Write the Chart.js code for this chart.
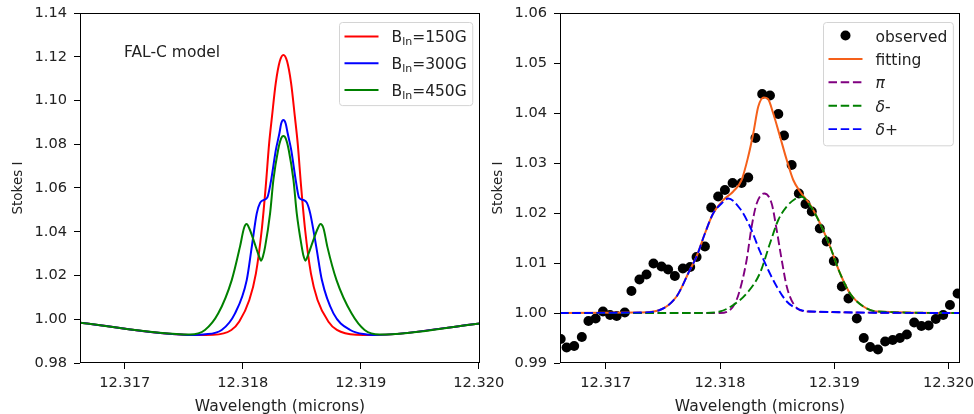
<!DOCTYPE html>
<html>
<head>
<meta charset="utf-8">
<script src="https://cdn.jsdelivr.net/npm/chart.js@4.4.1/dist/chart.umd.min.js"></script>
<style>
  html, body { margin: 0; padding: 0; background: #fff; overflow: hidden; }
  #wrap { position: relative; width: 974px; height: 414px; overflow: hidden; }
  .panel { position: absolute; top: 0; }
  #left { left: 0; }
  #right { left: 454px; }
</style>
</head>
<body>
<div id="wrap">
  <div class="panel" id="left"><canvas id="chartModel" width="520" height="430"></canvas></div>
  <div class="panel" id="right"><canvas id="chartFit" width="520" height="430"></canvas></div>
</div>
<script>
// axis ticks
const xTicksModel = [12.317, 12.318, 12.319, 12.320];
const yTicksModel = [0.98, 1.00, 1.02, 1.04, 1.06, 1.08, 1.10, 1.12, 1.14];
const xTicksFit = [12.317, 12.318, 12.319, 12.320];
const yTicksFit = [0.99, 1.00, 1.01, 1.02, 1.03, 1.04, 1.05, 1.06];

const fieldLabels = ['=150G', '=300G', '=450G'];
const fitLabels = ['observed', 'fitting', 'π', 'δ-', 'δ+'];

// FAL-C model profiles: [wavelength (microns), Stokes I]
const b150 = [
  [12.316618, 0.9984], [12.317594, 0.9928], [12.317750, 0.9929], [12.317903, 0.9951],
  [12.317970, 0.9990], [12.318055, 1.0088], [12.318111, 1.0210], [12.318160, 1.0408],
  [12.318194, 1.0606], [12.318223, 1.0804], [12.318247, 1.0926], [12.318279, 1.1079],
  [12.318313, 1.1179], [12.318344, 1.1208], [12.318375, 1.1179], [12.318409, 1.1079],
  [12.318441, 1.0926], [12.318465, 1.0804], [12.318494, 1.0606], [12.318528, 1.0408],
  [12.318577, 1.0210], [12.318633, 1.0088], [12.318724, 0.9990], [12.318797, 0.9951],
  [12.318960, 0.9929], [12.319105, 0.9928], [12.320009, 0.9981]
];
const b300 = [
  [12.316618, 0.9984], [12.317594, 0.9928], [12.317665, 0.9930], [12.317821, 0.9951],
  [12.317934, 1.0027], [12.318033, 1.0179], [12.318076, 1.0332], [12.318118, 1.0484],
  [12.318146, 1.0532], [12.318176, 1.0545], [12.318208, 1.0557], [12.318238, 1.0630],
  [12.318280, 1.0774], [12.318310, 1.0850], [12.318325, 1.0895], [12.318344, 1.0911],
  [12.318363, 1.0895], [12.318380, 1.0850], [12.318410, 1.0774], [12.318450, 1.0630],
  [12.318476, 1.0557], [12.318514, 1.0545], [12.318543, 1.0532], [12.318571, 1.0484],
  [12.318622, 1.0332], [12.318670, 1.0179], [12.318768, 1.0027], [12.318910, 0.9951],
  [12.319049, 0.9930], [12.319105, 0.9928], [12.320009, 0.9981]
];
const b450 = [
  [12.316618, 0.9984], [12.317552, 0.9930], [12.317679, 0.9951], [12.317792, 1.0027],
  [12.317906, 1.0179], [12.317976, 1.0332], [12.318009, 1.0415], [12.318032, 1.0435],
  [12.318055, 1.0415], [12.318095, 1.0355], [12.318136, 1.0290], [12.318155, 1.0268],
  [12.318172, 1.0290], [12.318189, 1.0332], [12.318231, 1.0484], [12.318259, 1.0637],
  [12.318299, 1.0774], [12.318323, 1.0825], [12.318344, 1.0838], [12.318365, 1.0825],
  [12.318389, 1.0774], [12.318429, 1.0637], [12.318457, 1.0484], [12.318499, 1.0332],
  [12.318514, 1.0290], [12.318531, 1.0268], [12.318550, 1.0290], [12.318593, 1.0355],
  [12.318635, 1.0415], [12.318658, 1.0435], [12.318684, 1.0415], [12.318716, 1.0332],
  [12.318794, 1.0179], [12.318921, 1.0027], [12.319032, 0.9951], [12.319159, 0.9930],
  [12.320009, 0.9981]
];

// observed profile and its three-component fit
const observed = [
  [12.316606, 0.9948], [12.316658, 0.9931], [12.316724, 0.9934], [12.316791, 0.9952],
  [12.316849, 0.9984], [12.316912, 0.9989], [12.316976, 1.0003], [12.317038, 0.9996],
  [12.317096, 0.9994], [12.317167, 1.0001], [12.317225, 1.0044], [12.317295, 1.0067],
  [12.317357, 1.0077], [12.317418, 1.0099], [12.317488, 1.0093], [12.317546, 1.0087],
  [12.317605, 1.0074], [12.317675, 1.0089], [12.317739, 1.0092], [12.317795, 1.0112],
  [12.317868, 1.0133], [12.317923, 1.0211], [12.317984, 1.0233], [12.318043, 1.0246],
  [12.318110, 1.0260], [12.318189, 1.0260], [12.318247, 1.0271], [12.318310, 1.0350],
  [12.318369, 1.0438], [12.318437, 1.0435], [12.318510, 1.0398], [12.318560, 1.0355],
  [12.318627, 1.0296], [12.318690, 1.0239], [12.318748, 1.0218], [12.318803, 1.0203],
  [12.318873, 1.0169], [12.318934, 1.0143], [12.318996, 1.0104], [12.319066, 1.0053],
  [12.319124, 1.0029], [12.319197, 0.9989], [12.319258, 0.9950], [12.319314, 0.9932],
  [12.319382, 0.9927], [12.319445, 0.9943], [12.319511, 0.9946], [12.319574, 0.9950],
  [12.319635, 0.9957], [12.319699, 0.9981], [12.319762, 0.9974], [12.319825, 0.9975],
  [12.319888, 0.9988], [12.319953, 0.9996], [12.320012, 1.0016], [12.320079, 1.0039]
];
const fitting = [
  [12.316600, 1.0000], [12.317298, 1.0001], [12.317473, 1.0006], [12.317620, 1.0033],
  [12.317736, 1.0086], [12.317795, 1.0113], [12.317868, 1.0159], [12.317940, 1.0199],
  [12.318028, 1.0226], [12.318116, 1.0243], [12.318189, 1.0266], [12.318247, 1.0313],
  [12.318291, 1.0359], [12.318335, 1.0413], [12.318384, 1.0431], [12.318420, 1.0428],
  [12.318466, 1.0399], [12.318525, 1.0353], [12.318584, 1.0306], [12.318641, 1.0266],
  [12.318700, 1.0243], [12.318788, 1.0217], [12.318876, 1.0179], [12.318963, 1.0133],
  [12.319051, 1.0079], [12.319138, 1.0039], [12.319255, 1.0013], [12.319372, 1.0003],
  [12.320102, 1.0000]
];
const piComp = [
  [12.316600, 1.0000], [12.317999, 1.0000], [12.318131, 1.0019], [12.318189, 1.0059],
  [12.318233, 1.0106], [12.318277, 1.0173], [12.318321, 1.0219], [12.318387, 1.0239],
  [12.318452, 1.0219], [12.318496, 1.0166], [12.318540, 1.0106], [12.318584, 1.0053],
  [12.318641, 1.0019], [12.318759, 1.0003], [12.320102, 1.0000]
];
const deltaMinus = [
  [12.316600, 1.0000], [12.317824, 1.0000], [12.317999, 1.0003], [12.318116, 1.0016],
  [12.318233, 1.0039], [12.318350, 1.0080], [12.318437, 1.0139], [12.318510, 1.0186],
  [12.318584, 1.0213], [12.318671, 1.0230], [12.318709, 1.0233], [12.318788, 1.0215],
  [12.318876, 1.0179], [12.318963, 1.0133], [12.319051, 1.0079], [12.319138, 1.0039],
  [12.319255, 1.0013], [12.319372, 1.0003], [12.320102, 1.0000]
];
const deltaPlus = [
  [12.316600, 1.0000], [12.317298, 1.0001], [12.317473, 1.0006], [12.317620, 1.0033],
  [12.317736, 1.0086], [12.317795, 1.0113], [12.317868, 1.0159], [12.317940, 1.0199],
  [12.318014, 1.0219], [12.318072, 1.0229], [12.318174, 1.0209], [12.318262, 1.0173],
  [12.318350, 1.0123], [12.318422, 1.0086], [12.318496, 1.0053], [12.318584, 1.0023],
  [12.318671, 1.0009], [12.318788, 1.0003], [12.320102, 1.0000]
];

const FONT = "'DejaVu Sans', sans-serif";
const TEXT = '#222';
const DASH = [8.5, 3.7];
Chart.defaults.font.family = FONT;

const pts = arr => arr.map(([x, y]) => ({ x, y }));

function curve(data, color, order, dashed) {
  return {
    data: pts(data),
    borderColor: color,
    borderWidth: dashed ? 1.9 : 2,
    borderDash: dashed ? DASH : [],
    pointRadius: 0,
    fill: false,
    cubicInterpolationMode: 'monotone',
    clip: 0,
    order
  };
}

function buildScales(xr, yr, xt, yt, yDigits, yWidth, yTitlePad) {
  const tickFont = { size: 14.6 };
  return {
    x: {
      type: 'linear', min: xr[0], max: xr[1],
      afterBuildTicks: s => { s.ticks = xt.map(value => ({ value })); },
      afterFit: s => { s.height = 67; s.paddingLeft = 0; s.paddingRight = 0; },
      ticks: { callback: v => v.toFixed(3), font: tickFont, color: TEXT, padding: 5, maxRotation: 0, autoSkip: false },
      grid: { drawOnChartArea: false, tickLength: 6, color: '#000', lineWidth: 1 },
      border: { display: false },
      title: { display: true, text: 'Wavelength (microns)', font: { size: 15.5 }, color: TEXT, padding: { top: 0, bottom: 13.5 } }
    },
    y: {
      type: 'linear', min: yr[0], max: yr[1],
      afterBuildTicks: s => { s.ticks = yt.map(value => ({ value })); },
      afterFit: s => { s.width = yWidth; s.paddingTop = 0; s.paddingBottom = 0; },
      ticks: { callback: v => v.toFixed(yDigits), font: tickFont, color: TEXT, padding: 7, autoSkip: false },
      grid: { drawOnChartArea: false, tickLength: 6, color: '#000', lineWidth: 1 },
      border: { display: false },
      title: { display: true, text: 'Stokes I', font: { size: 13.5 }, color: TEXT, padding: { top: yTitlePad, bottom: 0 } }
    }
  };
}

// axes box drawn on all four sides
const frame = {
  id: 'frame',
  afterDatasetsDraw(chart) {
    const { ctx, chartArea: a } = chart;
    ctx.save();
    ctx.strokeStyle = '#000';
    ctx.lineWidth = 1;
    ctx.strokeRect(Math.round(a.left) + 0.5, Math.round(a.top) + 0.5,
      Math.round(a.right - a.left) - 1, Math.round(a.bottom - a.top) - 1);
    ctx.restore();
  }
};

function roundedBox(ctx, x, y, w, h, r) {
  ctx.beginPath();
  ctx.moveTo(x + r, y);
  ctx.lineTo(x + w - r, y);
  ctx.arcTo(x + w, y, x + w, y + r, r);
  ctx.lineTo(x + w, y + h - r);
  ctx.arcTo(x + w, y + h, x + w - r, y + h, r);
  ctx.lineTo(x + r, y + h);
  ctx.arcTo(x, y + h, x, y + h - r, r);
  ctx.lineTo(x, y + r);
  ctx.arcTo(x, y, x + r, y, r);
  ctx.closePath();
}

// legend in the upper right corner; rows hold a handle and text parts
function drawLegend(chart, rows, cfg) {
  const { ctx, chartArea: a } = chart;
  const fs = 15.5;
  const fontOf = p => `${p.italic ? 'italic ' : ''}${p.sub ? 11 : fs}px ${FONT}`;
  ctx.save();
  let textW = 0;
  rows.forEach(r => {
    r.w = 0;
    r.parts.forEach(p => { ctx.font = fontOf(p); p.w = ctx.measureText(p.t).width; r.w += p.w; });
    textW = Math.max(textW, r.w);
  });
  const width = 5 + 47 + textW + 6;
  const height = cfg.first + cfg.gap * (rows.length - 1) + cfg.last;
  const x0 = Math.round(a.right - 7.5 - width) + 0.5;
  const y0 = Math.round(a.top + 8.5) + 0.5;
  roundedBox(ctx, x0, y0, width, height, 3);
  ctx.fillStyle = 'rgba(255,255,255,0.8)';
  ctx.fill();
  ctx.strokeStyle = '#d4d4d4';
  ctx.lineWidth = 1;
  ctx.stroke();
  rows.forEach((r, i) => {
    const y = y0 + cfg.first + i * cfg.gap;
    const hx = x0 + 5;
    if (r.dot) {
      ctx.beginPath();
      ctx.arc(hx + 17, y, 5, 0, Math.PI * 2);
      ctx.fillStyle = r.color;
      ctx.fill();
    } else {
      ctx.beginPath();
      ctx.setLineDash(r.dashed ? DASH : []);
      ctx.strokeStyle = r.color;
      ctx.lineWidth = r.dashed ? 1.9 : 2;
      ctx.moveTo(hx, y);
      ctx.lineTo(hx + 34, y);
      ctx.stroke();
      ctx.setLineDash([]);
    }
    let tx = hx + 47;
    ctx.fillStyle = TEXT;
    ctx.textBaseline = 'alphabetic';
    r.parts.forEach(p => {
      ctx.font = fontOf(p);
      ctx.fillText(p.t, tx, y + cfg.base + (p.sub ? 3 : 0));
      tx += p.w;
    });
  });
  ctx.restore();
}

const modelColors = ['#ff0000', '#0000ff', '#008000'];

const modelNotes = {
  id: 'modelNotes',
  afterDatasetsDraw(chart) {
    const { ctx } = chart;
    ctx.save();
    ctx.font = `15.5px ${FONT}`;
    ctx.fillStyle = TEXT;
    ctx.fillText('FAL-C model', 124, 56.5);
    ctx.restore();
    drawLegend(chart, fieldLabels.map((lab, i) => ({
      color: modelColors[i],
      parts: [{ t: 'B' }, { t: 'ln', sub: true }, { t: lab }]
    })), { first: 14, gap: 26.7, last: 15.7, base: 5.7 });
  }
};

new Chart(document.getElementById('chartModel'), {
  type: 'line',
  data: {
    datasets: [
      curve(b150, modelColors[0], 3, false),
      curve(b300, modelColors[1], 2, false),
      curve(b450, modelColors[2], 1, false)
    ]
  },
  options: {
    responsive: false,
    animation: false,
    events: [],
    layout: { padding: { top: 13, left: 0, right: 40, bottom: 0 } },
    plugins: { legend: { display: false }, tooltip: { enabled: false } },
    scales: buildScales([12.31662, 12.32001], [0.98, 1.14], xTicksModel, yTicksModel, 2, 80, 10.5)
  },
  plugins: [frame, modelNotes]
});

const fitColors = ['#000000', '#f5601a', '#800080', '#008000', '#0000ff'];

const fitLegend = {
  id: 'fitLegend',
  afterDatasetsDraw(chart) {
    drawLegend(chart, fitLabels.map((lab, i) => {
      let parts = [{ t: lab }];
      if (lab === 'π') parts = [{ t: 'π', italic: true }];
      if (lab.startsWith('δ')) parts = [{ t: 'δ', italic: true }, { t: lab.slice(1) }];
      return { color: fitColors[i], dot: i === 0, dashed: i > 1, parts };
    }), { first: 13, gap: 23.4, last: 16.7, base: 6 });
  }
};

new Chart(document.getElementById('chartFit'), {
  type: 'line',
  data: {
    datasets: [
      {
        data: pts(observed),
        showLine: false,
        pointRadius: 5,
        pointBackgroundColor: fitColors[0],
        pointBorderColor: fitColors[0],
        pointBorderWidth: 0,
        clip: 0,
        order: 5
      },
      curve(fitting, fitColors[1], 4, false),
      curve(piComp, fitColors[2], 3, true),
      curve(deltaMinus, fitColors[3], 2, true),
      curve(deltaPlus, fitColors[4], 1, true)
    ]
  },
  options: {
    responsive: false,
    animation: false,
    events: [],
    layout: { padding: { top: 13, left: 0, right: 14, bottom: 0 } },
    plugins: { legend: { display: false }, tooltip: { enabled: false } },
    scales: buildScales([12.31660, 12.32010], [0.99, 1.06], xTicksFit, yTicksFit, 2, 106, 36.2)
  },
  plugins: [frame, fitLegend]
});
</script>
</body>
</html>
